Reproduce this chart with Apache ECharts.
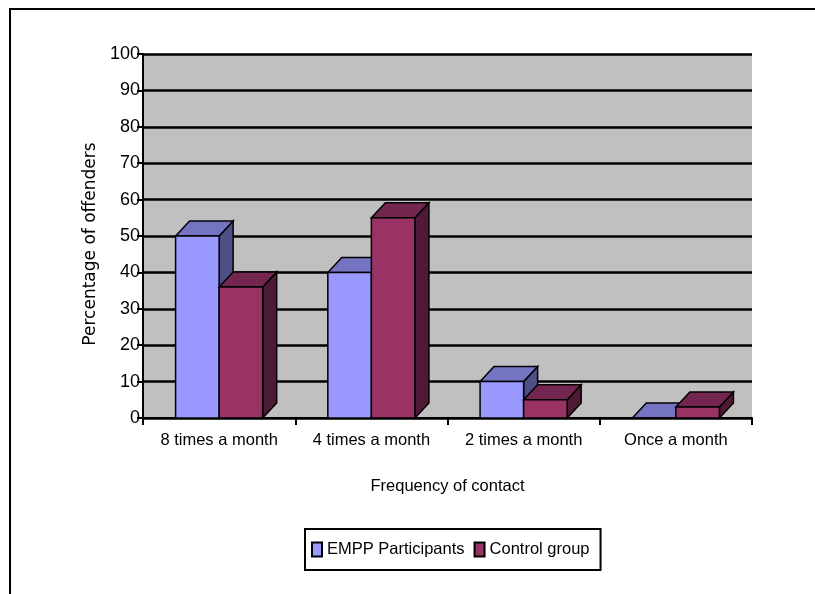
<!DOCTYPE html>
<html>
<head>
<meta charset="utf-8">
<script src="https://cdn.jsdelivr.net/npm/echarts@6/dist/echarts.min.js"></script>
<style>
  html, body { margin: 0; padding: 0; background: #fff; }
  #chart { width: 815px; height: 594px; }
</style>
</head>
<body>
<div id="chart"></div>
<script>
// Frequency of contact with offenders, by group (percent)
const categories = ['8 times a month', '4 times a month', '2 times a month', 'Once a month'];
const empp = [50, 40, 10, 0];
const control = [36, 55, 5, 3];
const yTicks = { min: 0, max: 100, interval: 10 };

const FONT = '"Liberation Sans", Arial, sans-serif';

// Colours for the front, top and side faces of each box
const emppFaces = { front: '#9999FF', top: '#7474C2', side: '#4F4F88' };
const controlFaces = { front: '#993366', top: '#73264F', side: '#4F1A35' };

// Builds a renderItem that draws a pseudo-3D box for one value.
// side = -1 puts the front face left of the category centre, +1 right of it.
function boxRenderer(side, faces) {
  return function (params, api) {
    const cat = api.value(0);
    const val = api.value(1);
    const base = api.coord([cat, 0]);
    const top = api.coord([cat, val]);
    const band = api.size([1, 0])[0];
    const w = band * 0.286;
    const dx = band * 0.092;
    const dy = 15;
    const x0 = side < 0 ? base[0] - w : base[0];
    const x1 = x0 + w;
    const yb = base[1];
    const yt = top[1];
    const stroke = { stroke: '#000', lineWidth: 1.5, lineJoin: 'miter' };
    return {
      type: 'group',
      children: [
        {
          type: 'polygon',
          shape: { points: [[x1, yb], [x1 + dx, yb - dy], [x1 + dx, yt - dy], [x1, yt]] },
          style: Object.assign({ fill: faces.side }, stroke)
        },
        {
          type: 'polygon',
          shape: { points: [[x0, yt], [x0 + dx, yt - dy], [x1 + dx, yt - dy], [x1, yt]] },
          style: Object.assign({ fill: faces.top }, stroke)
        },
        {
          type: 'rect',
          shape: { x: x0, y: yt, width: w, height: yb - yt },
          style: Object.assign({ fill: faces.front }, stroke)
        }
      ]
    };
  };
}

const chart = echarts.init(document.getElementById('chart'), null, { renderer: 'canvas' });

chart.setOption({
  animation: false,
  backgroundColor: '#ffffff',
  textStyle: { fontFamily: FONT, color: '#000' },
  graphic: [
    {
      type: 'rect',
      shape: { x: 10, y: 9, width: 900, height: 700 },
      style: { fill: 'none', stroke: '#000', lineWidth: 2 },
      silent: true
    }
  ],
  grid: {
    left: 143, right: 63, top: 54, bottom: 176,
    show: true, backgroundColor: '#C0C0C0', borderWidth: 0
  },
  xAxis: {
    type: 'category',
    data: categories,
    boundaryGap: true,
    name: 'Frequency of contact',
    nameLocation: 'middle',
    nameGap: 60,
    nameTextStyle: { fontFamily: FONT, fontSize: 16.5, color: '#000' },
    axisLine: { show: true, lineStyle: { color: '#000', width: 2 } },
    axisTick: { show: true, length: 7, lineStyle: { color: '#000', width: 2 } },
    axisLabel: { fontFamily: FONT, fontSize: 16.5, color: '#000', margin: 14, interval: 0 },
    splitLine: { show: false }
  },
  yAxis: {
    type: 'value',
    min: yTicks.min, max: yTicks.max, interval: yTicks.interval,
    name: 'Percentage of offenders',
    nameLocation: 'middle',
    nameRotate: 90,
    nameGap: 44,
    nameTextStyle: { fontFamily: '"DejaVu Sans", sans-serif', fontSize: 17, color: '#000', padding: [0, 16, 0, 0] },
    axisLine: { show: true, lineStyle: { color: '#000', width: 2 } },
    axisTick: { show: true, length: 6, lineStyle: { color: '#000', width: 2 } },
    axisLabel: { fontFamily: FONT, fontSize: 18, color: '#000', margin: 3 },
    splitLine: { show: true, lineStyle: { color: '#000', width: 2.5 } }
  },
  legend: {
    left: 305, top: 529,
    orient: 'horizontal',
    backgroundColor: '#fff',
    borderColor: '#000', borderWidth: 2,
    padding: [12, 11, 12, 6],
    itemWidth: 10, itemHeight: 14, itemGap: 9,
    textStyle: { fontFamily: FONT, fontSize: 16.5, color: '#000' },
    data: [
      { name: 'EMPP Participants', icon: 'rect', itemStyle: { color: emppFaces.front, borderColor: '#000', borderWidth: 2 } },
      { name: 'Control group', icon: 'rect', itemStyle: { color: controlFaces.front, borderColor: '#000', borderWidth: 2 } }
    ]
  },
  series: [
    {
      name: 'EMPP Participants',
      type: 'custom',
      renderItem: boxRenderer(-1, emppFaces),
      encode: { x: 0, y: 1 },
      itemStyle: { color: emppFaces.front },
      data: empp.map((v, i) => [i, v]),
      z: 3
    },
    {
      name: 'Control group',
      type: 'custom',
      renderItem: boxRenderer(1, controlFaces),
      encode: { x: 0, y: 1 },
      itemStyle: { color: controlFaces.front },
      data: control.map((v, i) => [i, v]),
      z: 4
    }
  ]
});
</script>
</body>
</html>
